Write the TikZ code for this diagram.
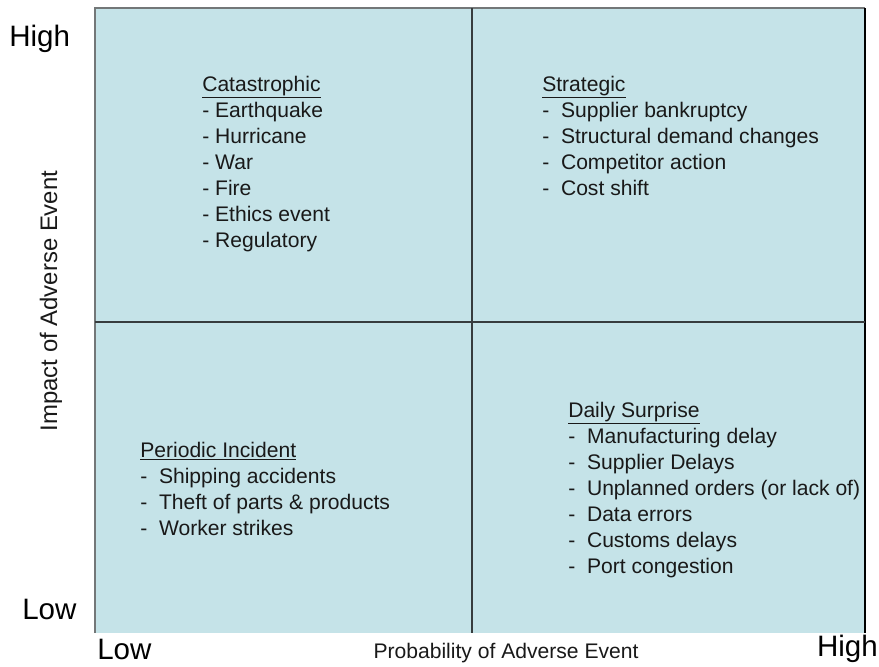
\documentclass[tikz,border=0pt]{standalone}
\usepackage{fontspec}
\setmainfont{Liberation Sans}
\definecolor{qblue}{RGB}{197,227,232}
\definecolor{ggray}{RGB}{55,60,62}

\begin{document}
\begin{tikzpicture}[x=0.025cm, y=-0.025cm,
         % list entries in the quadrants
         item/.style={anchor=base west, inner sep=0pt,
         font=\fontsize{15}{18}\selectfont, text=black!90},
         % axis captions
         axis/.style={inner sep=0pt, font=\fontsize{15}{18}\selectfont, text=black!90},
         % High / Low marks
         level/.style={inner sep=0pt, font=\fontsize{21}{25}\selectfont}]
         \useasboundingbox (0,0) rectangle (879,666);
         \fill [qblue] (95,8) rectangle (865,633);
         \draw [ggray!70, line width=1pt] (95,633) -- (95,8) -- (865,8);
         \draw [black, line width=1.3pt] (865,8) -- (865,633);
         %% quadrant lines
         \draw [ggray, line width=1.4pt] (472,8) -- (472,633);
         \draw [ggray, line width=1.4pt] (95,322) -- (865,322);
         %% top left
         \node [item] (cat) at (202,91) {\underline{Catastrophic}};
         \foreach \y/\w [count=\i] in {117/Earthquake, 143/Hurricane, 169/War,
            195/Fire, 221/Ethics event, 247/Regulatory}{
            \node [item] (cat\i) at (202,\y) {-~\w};
         };
         %% top right
         \node [item] (str) at (542,91) {\underline{Strategic}};
         \foreach \y/\w [count=\i] in {117/Supplier bankruptcy, 143/Structural demand changes,
            169/Competitor action, 195/Cost shift}{
            \node [item] (str\i) at (542,\y) {-~~\w};
         };
         %% bottom left
         \node [item] (per) at (140,457) {\underline{Periodic Incident}};
         \foreach \y/\w [count=\i] in {483/Shipping accidents, 509/Theft of parts \& products,
            535/Worker strikes}{
            \node [item] (per\i) at (140,\y) {-~~\w};
         };
         %% bottom right
         \node [item] (day) at (568,417) {\underline{Daily Surprise}};
         \foreach \y/\w [count=\i] in {443/Manufacturing delay, 469/Supplier Delays,
            495/Unplanned orders (or lack of), 521/Data errors, 547/Customs delays,
            573/Port congestion}{
            \node [item] (day\i) at (568,\y) {-~~\w};
         };
         %% axes
         \node [axis, rotate=90, font=\fontsize{17}{20}\selectfont] (impact) at (51,301) {Impact of Adverse Event};
         \node [axis, anchor=base] (prob) at (506,658) {Probability of Adverse Event};
         \node [level, anchor=base west] (yhigh) at (9,46) {High};
         \node [level, anchor=base west] (ylow) at (22,619) {Low};
         \node [level, anchor=base west] (xlow) at (97,659) {Low};
         \node [level, anchor=base east] (xhigh) at (878,656) {High};
\end{tikzpicture}
\end{document}
